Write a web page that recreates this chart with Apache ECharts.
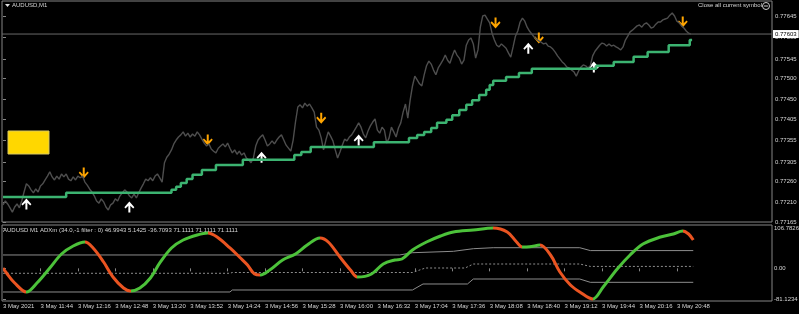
<!DOCTYPE html>
<html><head><meta charset="utf-8">
<script src="https://cdn.jsdelivr.net/npm/echarts@6/dist/echarts.min.js"></script>
<style>html,body{margin:0;padding:0;background:#000;}#c{width:799px;height:314px;}</style>
</head><body><div id="c"></div>
<script>
// ---- data (prices in points = 1e-5) ----
const barStep = 2; // minutes between stored closes, starting 3 May 2021 11:12
const closePts = [
77205,77214,77207,77198,77188,77200,77207,77198,77214,77235,
77254,77249,77240,77233,77242,77235,77249,77254,77263,77272,
77282,77270,77263,77272,77265,77277,77270,77277,77265,77261,
77270,77263,77272,77268,77272,77258,77251,77242,77235,77226,
77214,77209,77219,77212,77200,77193,77205,77209,77219,77214,
77226,77233,77240,77235,77226,77221,77230,77221,77233,77244,
77254,77265,77261,77268,77261,77272,77277,77268,77258,77303,
77316,77323,77333,77347,77356,77363,77368,77375,77365,77372,
77363,77370,77365,77375,77368,77358,77349,77342,77347,77335,
77330,77326,77337,77342,77347,77340,77349,77337,77326,77333,
77323,77330,77321,77326,77314,77310,77303,77314,77342,77356,
77363,77368,77356,77342,77347,77354,77347,77356,77363,77368,
77356,77344,77337,77330,77356,77398,77433,77438,77431,77442,
77435,77440,77431,77421,77386,77379,77361,77333,77356,77375,
77365,77354,77333,77314,77328,77344,77358,77354,77363,77368,
77377,77386,77396,77386,77370,77361,77377,77389,77398,77405,
77379,77372,77386,77379,77349,77361,77386,77375,77363,77384,
77396,77421,77440,77407,77449,77482,77505,77496,77487,77482,
77508,77529,77540,77533,77519,77508,77524,77533,77542,77554,
77542,77535,77552,77566,77554,77547,77533,77542,77577,77589,
77594,77580,77547,77566,77619,77645,77647,77638,77629,77605,
77589,77577,77573,77580,77575,77570,77559,77549,77573,77598,
77610,77631,77640,77633,77619,77610,77603,77596,77591,77587,
77584,77580,77582,77575,77573,77568,77561,77552,77545,77538,
77533,77526,77524,77519,77515,77505,77517,77526,77531,77529,
77524,77529,77552,77563,77570,77577,77582,77580,77575,77580,
77575,77577,77573,77570,77566,77573,77589,77598,77608,77612,
77617,77622,77624,77619,77626,77629,77624,77617,77619,77626,
77631,77631,77636,77638,77640,77647,77652,77645,77633,77629,
77622,77617,77610,77605,77603];
const trailT   = [0,54,144,148,152,157,162,170,182,205,249,255,263,317,347,354,360,366,371,379,384,390,396,401,407,413,416,419,430,441,452,507,522,539,551,569,587,589];
const trailPts = [77223,77233,77240,77247,77256,77265,77275,77286,77298,77310,77321,77328,77340,77351,77361,77368,77375,77384,77396,77403,77414,77426,77438,77449,77461,77473,77484,77494,77503,77512,77522,77529,77538,77550,77561,77577,77589,77589];
const buyT   = [20,108,221,304,449,505];
const buyPts = [77207,77200,77316,77356,77570,77526];
const sellT   = [69,175,272,421,458,581];
const sellPts = [77279,77356,77407,77629,77594,77631];
const lastPrice = 0.77603;
const priceTicks = [0.77165,0.77210,0.77260,0.77305,0.77355,0.77405,0.77450,0.77500,0.77545,0.77595,0.77645];

// ADXm oscillator window
const oscT = [0,3,10,20,29,40,50,60,70,77,86,94,103,109,117,126,134,144,154,166,175,183,194,203,209,215,220,228,239,250,260,271,278,288,297,303,315,325,335,341,350,362,374,385,402,419,431,439,444,450,459,468,476,485,493,504,513,525,536,547,562,573,581,586,590];
const oscV = [0.9,-12.3,-38.8,-62.6,-38.8,0.9,38.0,59.2,69.7,53.9,16.8,-22.9,-52.0,-59.9,-52.0,-25.5,14.2,53.9,75.0,88.3,93.5,83.0,53.9,27.4,8.9,-14.9,-17.6,-4.3,22.1,38.0,61.8,80.3,69.7,30.0,-4.3,-22.9,-14.9,11.5,22.1,24.8,48.6,69.7,85.6,96.2,101.5,106.7826,96.2,69.7,56.5,57.0,61.8,35.3,-9.6,-44.0,-62.6,-81.1234,-49.3,-1.7,35.3,64.4,83.0,90.9,98.8,90.9,75.0];
const upperT = [0,339,350,385,402,419,493,502,590];
const upperV = [35.4,35.4,41.4,45.1,52.0,54.6,54.6,47.0,47.0];
const midT = [0,194,196,350,361,395,402,493,502,590];
const midV = [-13.1,-13.1,-11.0,-11.0,0.9,0.9,11.5,11.5,5.1,5.1];
const lowerT = [0,194,196,350,359,397,402,493,502,590];
const lowerV = [-62.6,-62.6,-57.3,-57.3,-41.4,-41.4,-28.2,-28.2,-37.0,-37.0];
const oscTicks = [-81.1234,0,106.7826];

const tickMinutes = [0,32,64,96,128,160,192,224,256,288,320,352,384,416,448,480,512,544,576];
const timeLabels = ['3 May 2021','3 May 11:44','3 May 12:16','3 May 12:48','3 May 13:20','3 May 13:52','3 May 14:24','3 May 14:56','3 May 15:28','3 May 16:00','3 May 16:32','3 May 17:04','3 May 17:36','3 May 18:08','3 May 18:40','3 May 19:12','3 May 19:44','3 May 20:16','3 May 20:48'];

// ---- build ----
const FONT = 'Liberation Sans';
const TXT = '#d6d6d6';
const BORDER = '#858585';
const UPC = '#4cc23a', DNC = '#ea5421';
const X_MIN = -0.855, X_MAX = 657.3;
const price = closePts.map((p,i)=>[i*barStep, p/1e5]);
const trail = trailT.map((t,i)=>[t, trailPts[i]/1e5]);
const buys = buyT.map((t,i)=>[t, buyPts[i]/1e5]);
const sells = sellT.map((t,i)=>[t, sellPts[i]/1e5]);
const osc = oscT.map((t,i)=>[t, oscV[i]]);
const pair = (T,V)=>T.map((t,i)=>[t,V[i]]);

const pieces=[]; let start=oscT[0], dir=null;
for(let i=0;i<oscT.length-1;i++){
  const d = oscV[i+1]>=oscV[i]?1:-1;
  if(dir===null) dir=d;
  else if(d!==dir){ pieces.push({gte:start, lt:oscT[i], color: dir>0?UPC:DNC}); start=oscT[i]; dir=d; }
}
pieces.push({gte:start, lte:oscT[oscT.length-1]+20, color: dir>0?UPC:DNC});

const UP_ARROW = 'path://M4,10L6,10L6,3.8L8.8,6.4L10,5.2L5,0L0,5.2L1.2,6.4L4,3.8Z';
const DN_ARROW = 'path://M4,0L6,0L6,6.2L8.8,3.6L10,4.8L5,10L0,4.8L1.2,3.6L4,6.2Z';

const chart = echarts.init(document.getElementById('c'), null, {renderer:'canvas'});
chart.setOption({
  backgroundColor:'#000',
  animation:false,
  grid:[
    {left:2, top:1, width:770, height:221, show:true, borderColor:BORDER, borderWidth:1, containLabel:false, outerBoundsMode:'none'},
    {left:2, top:225, width:770, height:76, show:true, borderColor:BORDER, borderWidth:1, containLabel:false, outerBoundsMode:'none'}
  ],
  xAxis:[
    {type:'value', gridIndex:0, min:X_MIN, max:X_MAX, show:false},
    {type:'value', gridIndex:1, min:X_MIN, max:X_MAX,
     axisLine:{show:false}, splitLine:{show:false},
     axisTick:{show:true, length:3, customValues:tickMinutes, lineStyle:{color:BORDER}},
     axisLabel:{customValues:tickMinutes, align:'left', margin:2, color:TXT, fontSize:6, fontFamily:FONT,
       formatter:v=>timeLabels[tickMinutes.indexOf(v)]}}
  ],
  yAxis:[
    {type:'value', gridIndex:0, position:'right', min:0.77165, max:0.7768, splitLine:{show:false},
     axisLine:{show:false},
     axisTick:{show:true, length:3, customValues:priceTicks, lineStyle:{color:BORDER}},
     axisLabel:{customValues:priceTicks, margin:3, color:TXT, fontSize:6, fontFamily:FONT, formatter:v=>v.toFixed(5)}},
    {type:'value', gridIndex:1, position:'right', min:-86.42, max:114.72, splitLine:{show:false},
     axisLine:{show:false},
     axisTick:{show:true, length:3, customValues:oscTicks, lineStyle:{color:BORDER}},
     axisLabel:{customValues:oscTicks, margin:2, color:TXT, fontSize:6, fontFamily:FONT, formatter:v=>v===0?'0.00':v.toFixed(4)}}
  ],
  visualMap:[{type:'piecewise', show:false, dimension:0, seriesIndex:4, pieces:pieces}],
  series:[
    {type:'line', xAxisIndex:0, yAxisIndex:0, data:price, showSymbol:false, silent:true,
     lineStyle:{color:'#4e4e4e', width:1.4}},
    {type:'line', xAxisIndex:0, yAxisIndex:0, data:trail, step:'end', showSymbol:false, silent:true,
     lineStyle:{color:'#3cb371', width:2.5}},
    {type:'scatter', xAxisIndex:0, yAxisIndex:0, data:buys, symbol:UP_ARROW, symbolSize:[10,11], itemStyle:{color:'#ffffff', opacity:1}, silent:true},
    {type:'scatter', xAxisIndex:0, yAxisIndex:0, data:sells, symbol:DN_ARROW, symbolSize:[10,11], itemStyle:{color:'#ffa500', opacity:1}, silent:true},
    {type:'line', xAxisIndex:1, yAxisIndex:1, data:osc, smooth:0.35, showSymbol:false, silent:true, lineStyle:{width:3}, z:3},
    {type:'line', xAxisIndex:1, yAxisIndex:1, data:pair(upperT,upperV), showSymbol:false, silent:true, lineStyle:{color:'#8c8c8c', width:1}, z:1},
    {type:'line', xAxisIndex:1, yAxisIndex:1, data:pair(midT,midV), showSymbol:false, silent:true, lineStyle:{color:'#8c8c8c', width:1, type:[2,2]}, z:1},
    {type:'line', xAxisIndex:1, yAxisIndex:1, data:pair(lowerT,lowerV), showSymbol:false, silent:true, lineStyle:{color:'#8c8c8c', width:1}, z:1},
    {type:'line', xAxisIndex:0, yAxisIndex:0, data:[[X_MIN,lastPrice],[X_MAX,lastPrice]], showSymbol:false, silent:true,
     lineStyle:{color:'#6a6a6a', width:1}, z:1,
     endLabel:{show:true, distance:1, formatter:()=>lastPrice.toFixed(5), color:'#000', backgroundColor:'#fff',
       fontSize:6, fontFamily:FONT, padding:[1,2,1,2]}}
  ],
  graphic:[
    {type:'polygon', shape:{points:[[5,4],[10,4],[7.5,7]]}, style:{fill:'#e0e0e0'}},
    {type:'text', left:12, top:2, style:{text:'AUDUSD,M1', fill:TXT, font:'6px '+FONT}},
    {type:'text', right:37, top:2, style:{text:'Close all current symbol', fill:TXT, font:'6px '+FONT}},
    {type:'circle', shape:{cx:766, cy:6, r:3.5}, style:{fill:'none', stroke:'#d0d0d0', lineWidth:1}},
    {type:'line', shape:{x1:764, y1:6, x2:768, y2:6}, style:{stroke:'#d0d0d0', lineWidth:1}},
    {type:'rect', shape:{x:8, y:131, width:41, height:23}, style:{fill:'#ffd700', stroke:'#d8c860', lineWidth:1}},
    {type:'text', left:3, top:227, style:{text:'AUDUSD M1 ADXm (34.0,-1 filter : 0) 46.9943 5.1425 -36.7093 71.1111 71.1111 71.1111', fill:TXT, font:'6px '+FONT}}
  ]
});
</script></body></html>
